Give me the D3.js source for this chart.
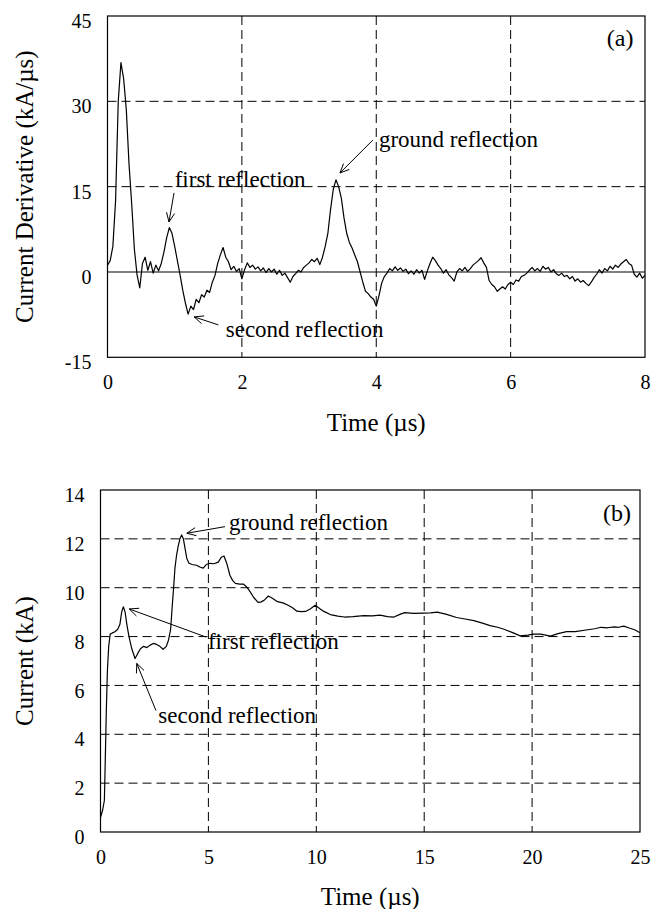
<!DOCTYPE html>
<html><head><meta charset="utf-8">
<script src="https://cdn.jsdelivr.net/npm/d3@7/dist/d3.min.js"></script>
<style>
body{margin:0;background:#fff}
svg{display:block}
text{font-family:"Liberation Serif","Times New Roman",serif;fill:#000}
</style></head><body>
<svg id="chart" width="661" height="909"></svg>
<script>
// ---------- Panel (a): current derivative (kA/us), sampled every 0.04 us ----------
const derivStep = 0.04;
const derivValues = [
 1.2, 2.0, 4.5, 12.5, 30, 36.8, 34, 28.5, 19, 12, 4, -0.5, -2.8, 1.5, 2.6, 0.3, 1.8, -0.2, 1.2, 0.2,
 1.5, 3.5, 6.0, 7.8, 6.8, 4.5, 2.0, -0.5, -3.2, -5.5, -7.4, -6.0, -6.6, -4.8, -5.4, -4.0, -4.4, -3.2, -3.6, -1.8,
 -0.6, 1.5, 3.0, 4.3, 2.6, 1.8, 0.4, 1.0, 0.1, 0.6, -1.2, 0.4, 1.6, 0.8, 1.2, 0.5, 0.9, 0.2, 0.7, -0.1,
 0.6, 0.0, 0.5, -0.4, 0.3, -0.6, -0.2, -1.0, -1.8, -0.8, -0.3, 0.3, 0.0, 0.8, 1.2, 1.6, 2.2, 1.8, 2.4, 1.3,
 2.6, 4.5, 6.8, 11, 14.5, 16.2, 15, 13, 9.5, 6.8, 5.2, 4.2, 3.0, 1.8, 0.0, -1.8, -3.4, -3.8, -4.4, -4.8,
 -6.0, -4.2, -2.0, -0.8, -0.2, 0.6, 0.2, 0.9, 0.3, 0.7, 0.1, 0.5, -0.3, 0.2, -0.4, 0.4, -0.2, 0.3, -1.3, 0.2,
 1.5, 2.6, 2.0, 1.2, 0.6, -0.2, 0.4, -0.5, -1.0, -1.6, 0.0, 0.6, 0.2, 0.8, 0.1, 0.6, 1.2, 1.6, 2.0, 2.5,
 1.6, 0.8, -1.5, -2.2, -2.6, -3.4, -3.0, -2.6, -3.0, -2.2, -1.8, -2.2, -1.4, -1.6, -0.8, -0.6, -0.2, 0.3, 0.8, 0.2,
 0.6, 0.1, 1.0, 0.5, 0.8, 0.0, 0.4, -0.3, -0.6, -0.2, -0.8, -0.6, -1.2, -0.8, -1.6, -1.2, -1.8, -1.5, -2.0, -2.4,
 -1.8, -1.0, -0.4, 0.4, -0.2, 0.6, 0.2, 1.0, 0.5, 1.2, 0.8, 1.4, 1.8, 2.2, 1.5, 1.2, -0.4, -0.9, -0.2, -1.1,
 -0.6
];
const derivTimes = derivValues.map((_, i) => +(i * derivStep).toFixed(2));
const derivXTicks = [0, 2, 4, 6, 8];
const derivYTicks = [-15, 0, 15, 30, 45];

// ---------- Panel (b): current (kA) ----------
const currentTimes = [0, 0.1, 0.18, 0.22, 0.27, 0.32, 0.38, 0.45, 0.55, 0.67, 0.8, 0.9, 0.98, 1.06, 1.14, 1.22, 1.32, 1.45, 1.6, 1.72,
 1.85, 2.0, 2.15, 2.3, 2.45, 2.6, 2.75, 2.9, 3.05, 3.15, 3.25, 3.32, 3.38, 3.45, 3.52, 3.6, 3.68, 3.76, 3.84, 3.92,
 4.0, 4.1, 4.25, 4.45, 4.6, 4.76, 4.9, 5.07, 5.25, 5.46, 5.6, 5.72, 5.85, 6.0, 6.12, 6.25, 6.45, 6.62, 6.75, 6.9,
 7.1, 7.3, 7.45, 7.6, 7.78, 8.0, 8.2, 8.45, 8.65, 8.9, 9.1, 9.3, 9.5, 9.7, 9.95, 10.15, 10.35, 10.65, 11.0, 11.3,
 11.7, 12.2, 12.6, 12.95, 13.3, 13.6, 13.9, 14.1, 14.5, 14.96, 15.3, 15.6, 16.0, 16.5, 16.9, 17.3, 17.7, 18.05, 18.4, 18.7,
 19.1, 19.45, 19.8, 20.06, 20.4, 20.85, 21.2, 21.6, 22.0, 22.5, 22.9, 23.2, 23.5, 23.8, 24.0, 24.25, 24.5, 24.75, 25];
const currentValues = [0.6, 0.9, 1.3, 2.9, 5.0, 6.6, 7.6, 8.1, 8.15, 8.2, 8.3, 8.5, 9.0, 9.22, 9.0, 8.5, 8.0, 7.5, 7.1, 7.3,
 7.5, 7.6, 7.55, 7.65, 7.72, 7.68, 7.6, 7.48, 7.6, 7.85, 8.3, 9.2, 9.9, 10.8, 11.3, 11.7, 12.0, 12.16, 12.0, 11.6,
 11.2, 11.0, 10.95, 10.92, 10.85, 10.8, 10.95, 11.0, 10.98, 11.05, 11.25, 11.3, 11.0, 10.5, 10.3, 10.18, 10.15, 10.15, 10.05, 9.88,
 9.6, 9.4, 9.42, 9.5, 9.66, 9.55, 9.43, 9.38, 9.3, 9.18, 9.04, 9.02, 9.03, 9.12, 9.28, 9.15, 9.03, 8.9, 8.84, 8.8,
 8.82, 8.86, 8.85, 8.88, 8.82, 8.8, 8.92, 8.98, 8.95, 8.96, 8.97, 9.0, 8.92, 8.78, 8.72, 8.65, 8.55, 8.45, 8.38, 8.3,
 8.16, 8.03, 8.06, 8.1, 8.1, 8.02, 8.12, 8.2, 8.2, 8.27, 8.32, 8.38, 8.36, 8.4, 8.38, 8.43, 8.35, 8.28, 8.16];
const currentXTicks = [0, 5, 10, 15, 20, 25];
const currentYTicks = [0, 2, 4, 6, 8, 10, 12, 14];

// annotations: [label, textX, textY, arrowFromX, arrowFromY, arrowToX, arrowToY] in data units
const derivNotes = [
  ["first reflection", 1.0, 14.9, 0.99, 13.9, 0.915, 8.8],
  ["second reflection", 1.76, -11.4, 1.65, -9.3, 1.29, -7.9],
  ["ground reflection", 4.04, 22.0, 3.95, 23.2, 3.46, 17.4]
];
const currentNotes = [
  ["ground reflection", 5.95, 12.36, 5.77, 12.5, 4.0, 12.23],
  ["first reflection", 4.98, 7.51, 4.89, 7.98, 1.33, 9.13],
  ["second reflection", 2.68, 4.46, 2.57, 4.97, 1.68, 6.9]
];

const svg = d3.select("#chart");

function panel(cfg) {
  const x = d3.scaleLinear().domain(cfg.xDomain).range([cfg.left, cfg.right]);
  const y = d3.scaleLinear().domain(cfg.yDomain).range([cfg.bottom, cfg.top]);
  const g = svg.append("g");

  // dashed grid
  cfg.xTicks.slice(1, -1).forEach(t => {
    g.append("line").attr("x1", x(t)).attr("x2", x(t)).attr("y1", cfg.top).attr("y2", cfg.bottom)
      .attr("stroke", "#000").attr("stroke-width", 1).attr("stroke-dasharray", "9,5");
  });
  cfg.yTicks.slice(1, -1).forEach(t => {
    if (cfg.solidZero && t === 0) return;
    g.append("line").attr("x1", cfg.left).attr("x2", cfg.right).attr("y1", y(t)).attr("y2", y(t))
      .attr("stroke", "#000").attr("stroke-width", 1).attr("stroke-dasharray", "9,5");
  });
  if (cfg.solidZero) {
    g.append("line").attr("x1", cfg.left).attr("x2", cfg.right).attr("y1", y(0)).attr("y2", y(0))
      .attr("stroke", "#000").attr("stroke-width", 1.2);
  }

  // frame
  g.append("rect").attr("x", cfg.left).attr("y", cfg.top)
    .attr("width", cfg.right - cfg.left).attr("height", cfg.bottom - cfg.top)
    .attr("fill", "none").attr("stroke", "#000").attr("stroke-width", 1.2);

  // axes (labels only)
  const fmt = d => String(d);
  const xAxis = d3.axisBottom(x).tickValues(cfg.xTicks).tickSize(0).tickPadding(0).tickFormat(fmt);
  const xa = g.append("g").attr("transform", `translate(0,${cfg.bottom})`).call(xAxis);
  xa.select(".domain").remove();
  xa.selectAll("text").attr("font-size", 20).attr("dy", 0).attr("y", 32)
    .style("font-family", '"Liberation Serif",serif');

  const yAxis = d3.axisLeft(y).tickValues(cfg.yTicks).tickSize(0).tickPadding(16).tickFormat(fmt);
  const ya = g.append("g").attr("transform", `translate(${cfg.left},0)`).call(yAxis);
  ya.select(".domain").remove();
  ya.selectAll("text").attr("font-size", 20).attr("dy", "0.58em")
    .style("font-family", '"Liberation Serif",serif');

  // data line
  const line = d3.line().x(d => x(d[0])).y(d => y(d[1]));
  g.append("path").datum(cfg.times.map((t, i) => [t, cfg.values[i]]))
    .attr("d", line).attr("fill", "none").attr("stroke", "#000").attr("stroke-width", 1.2)
    .attr("stroke-linejoin", "round");

  // titles
  g.append("text").attr("x", (cfg.left + cfg.right) / 2).attr("y", cfg.xTitleY)
    .attr("text-anchor", "middle").attr("font-size", 25).text("Time (\u00b5s)");
  g.append("text").attr("transform", `translate(${cfg.yTitleX},${(cfg.top + cfg.bottom) / 2}) rotate(-90)`)
    .attr("text-anchor", "middle").attr("font-size", 25).text(cfg.yTitle);

  // panel tag
  g.append("text").attr("x", x(cfg.tag[1])).attr("y", y(cfg.tag[2]))
    .attr("text-anchor", "middle").attr("font-size", 24).text(cfg.tag[0]);

  // annotations with open arrowheads
  cfg.notes.forEach(n => {
    g.append("text").attr("x", x(n[1])).attr("y", y(n[2])).attr("font-size", 23).text(n[0]);
    const x1 = x(n[3]), y1 = y(n[4]), x2 = x(n[5]), y2 = y(n[6]);
    g.append("line").attr("x1", x1).attr("y1", y1).attr("x2", x2).attr("y2", y2)
      .attr("stroke", "#000").attr("stroke-width", 1);
    const ang = Math.atan2(y1 - y2, x1 - x2), L = 10, a = 0.42;
    [ang - a, ang + a].forEach(th => {
      g.append("line").attr("x1", x2).attr("y1", y2)
        .attr("x2", x2 + L * Math.cos(th)).attr("y2", y2 + L * Math.sin(th))
        .attr("stroke", "#000").attr("stroke-width", 1);
    });
  });
}

panel({
  left: 107.5, right: 645, top: 16, bottom: 357.3,
  xDomain: [0, 8], yDomain: [-15, 45], xTicks: derivXTicks, yTicks: derivYTicks,
  times: derivTimes, values: derivValues, solidZero: true,
  xTitleY: 431, yTitleX: 33, yTitle: "Current Derivative (kA/\u00b5s)",
  tag: ["(a)", 7.63, 39.7], notes: derivNotes
});

panel({
  left: 100.5, right: 640, top: 490, bottom: 832,
  xDomain: [0, 25], yDomain: [0, 14], xTicks: currentXTicks, yTicks: currentYTicks,
  times: currentTimes, values: currentValues, solidZero: false,
  xTitleY: 905, yTitleX: 33, yTitle: "Current (kA)",
  tag: ["(b)", 23.93, 12.73], notes: currentNotes
});
</script>
</body></html>
